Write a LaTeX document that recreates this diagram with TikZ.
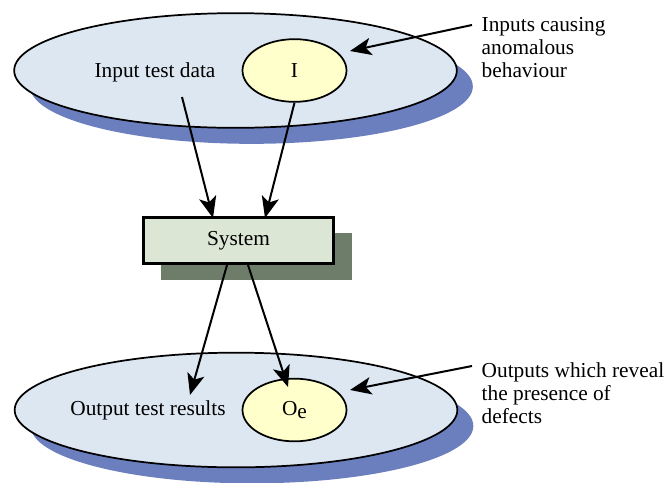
\documentclass[tikz,border=0pt]{standalone}
\usepackage{fontspec}
\setmainfont{Liberation Serif}
\usetikzlibrary{shapes.geometric}
\usetikzlibrary{shadows}
\usetikzlibrary{arrows.meta}

\definecolor{setfill}{HTML}{DDE7F1}
\definecolor{setshadow}{HTML}{6B7FBE}
\definecolor{subfill}{HTML}{FFFFCC}
\definecolor{sysfill}{HTML}{DCE6D4}
\definecolor{sysshadow}{HTML}{6E7D6A}

\tikzset{
  bigset/.style={ellipse,draw,line width=1.3pt,fill=setfill,inner sep=0pt,
    minimum width=332pt,minimum height=86pt,
    drop shadow={shadow xshift=12pt,shadow yshift=-12pt,fill=setshadow,opacity=1}},
  subset/.style={ellipse,draw,line width=1.3pt,fill=subfill,inner sep=0pt,
    minimum width=78pt,minimum height=47pt},
  sysbox/.style={rectangle,draw,line width=2.4pt,fill=sysfill,
    minimum width=143pt,minimum height=35pt,
    drop shadow={shadow xshift=13.5pt,shadow yshift=-12pt,fill=sysshadow,opacity=1}},
  flow/.style={line width=1.5pt,-{Stealth[length=16pt,width=13pt,inset=4pt]}},
}

\begin{document}
\begin{tikzpicture}[x=0.75pt,y=-0.75pt,font=\fontsize{16}{17.25}\selectfont]
    \useasboundingbox (0,0) rectangle (667,482);
    % input side
    \node[bigset] (topset) at (235.5,70.5) {};
    \node[subset] (iset) at (294.5,70.5) {I};
    \node (intext) at (155,72) {Input test data};
    \node[align=left,anchor=west] (inlbl) at (477,48) {Inputs causing\\anomalous\\behaviour};
    % system
    \node[sysbox] (sys) at (238.5,240.5) {System};
    % output side
    \node[bigset] (botset) at (236,410) {};
    \node[subset] (oset) at (294.5,410) {O\raisebox{-0.4ex}{e}};
    \node (outtext) at (148,410) {Output test results};
    \node[align=left,anchor=west] (outlbl) at (477,393) {Outputs which reveal\\the presence of\\defects};
    % connector ends
    \coordinate (intail) at (182,97);
    \coordinate (sysin1) at (213,218);
    \coordinate (sysin2) at (265,218);
    \coordinate (sysout1) at (227,265);
    \coordinate (sysout2) at (248,265);
    \coordinate (outhead) at (190,395);
    \coordinate (oehead) at (288,387);
    \coordinate (inlbltail) at (472,25);
    \coordinate (outlbltail) at (472,366);
    \draw[flow] (intail) to (sysin1);
    \draw[flow] (iset.south) to (sysin2);
    \draw[flow] (sysout1) to (outhead);
    \draw[flow] (sysout2) to (oehead);
    \draw[flow] (inlbltail) to (350,51);
    \draw[flow] (outlbltail) to (350,390);
\end{tikzpicture}
\end{document}
